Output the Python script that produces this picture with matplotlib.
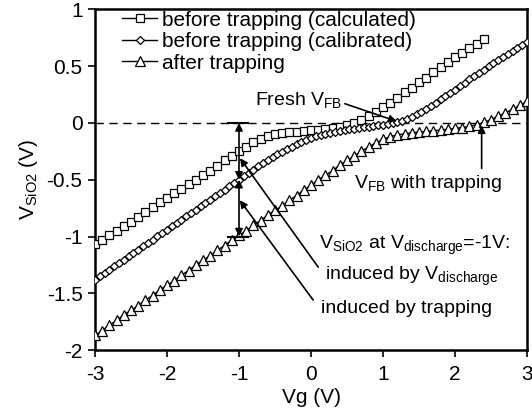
import numpy as np
import matplotlib
matplotlib.use("Agg")
import matplotlib.pyplot as plt

plt.rcParams["font.family"] = ["Liberation Sans", "DejaVu Sans"]
plt.rcParams["mathtext.fontset"] = "custom"
plt.rcParams["mathtext.rm"] = "Liberation Sans"
plt.rcParams["mathtext.it"] = "Liberation Sans:italic"
plt.rcParams["mathtext.default"] = "regular"
plt.rcParams["axes.unicode_minus"] = False

# Oxide voltage vs gate voltage
vg_calc = np.round(np.arange(-3.0, 2.41, 0.1), 2)
vsio2_calc = [
    -1.07, -1.03, -0.99, -0.95, -0.91, -0.87, -0.83, -0.78, -0.74, -0.70,
    -0.66, -0.62, -0.58, -0.54, -0.50, -0.46, -0.42, -0.38, -0.33, -0.29,
    -0.25, -0.21, -0.17, -0.14, -0.115, -0.10, -0.09, -0.08, -0.075, -0.07,
    -0.065, -0.06, -0.055, -0.045, -0.035, -0.02, 0.00, 0.025, 0.06, 0.10,
    0.14, 0.18, 0.22, 0.27, 0.31, 0.36, 0.40, 0.45, 0.49, 0.54,
    0.58, 0.62, 0.66, 0.70, 0.74,
]

vg_calib = np.linspace(-3.0, 3.0, 91)
vsio2_calib = [
    -1.380, -1.351, -1.321, -1.292, -1.263, -1.233, -1.204, -1.175, -1.145, -1.116,
    -1.087, -1.057, -1.028, -0.999, -0.969, -0.940, -0.911, -0.881, -0.852, -0.823,
    -0.793, -0.764, -0.735, -0.705, -0.676, -0.647, -0.617, -0.588, -0.559, -0.529,
    -0.500, -0.471, -0.441, -0.412, -0.383, -0.354, -0.326, -0.300, -0.276, -0.252,
    -0.230, -0.209, -0.189, -0.169, -0.150, -0.132, -0.117, -0.104, -0.094, -0.085,
    -0.077, -0.069, -0.062, -0.056, -0.050, -0.044, -0.038, -0.032, -0.026, -0.020,
    -0.015, -0.008, -0.001, 0.008, 0.020, 0.036, 0.055, 0.077, 0.100, 0.125,
    0.152, 0.180, 0.208, 0.237, 0.266, 0.295, 0.325, 0.355, 0.385, 0.414,
    0.443, 0.471, 0.499, 0.527, 0.554, 0.581, 0.608, 0.634, 0.660, 0.686,
    0.712,
]

vg_trap = np.linspace(-3.0, 3.0, 61)
vsio2_trap = [
    -1.87, -1.83, -1.78, -1.74, -1.69, -1.65, -1.61, -1.56, -1.52, -1.47,
    -1.43, -1.39, -1.34, -1.30, -1.25, -1.21, -1.17, -1.12, -1.08, -1.03,
    -0.99, -0.95, -0.90, -0.86, -0.81, -0.77, -0.73, -0.68, -0.64, -0.59,
    -0.55, -0.50, -0.46, -0.42, -0.37, -0.33, -0.29, -0.25, -0.21, -0.175,
    -0.145, -0.12, -0.105, -0.095, -0.087, -0.08, -0.074, -0.068, -0.062, -0.055,
    -0.048, -0.04, -0.03, -0.015, 0.005, 0.03, 0.06, 0.09, 0.12, 0.155,
    0.19,
]

labels = ["before trapping (calculated)", "before trapping (calibrated)", "after trapping"]
x_ticks = [-3, -2, -1, 0, 1, 2, 3]
y_ticks = [-2, -1.5, -1, -0.5, 0, 0.5, 1]
y_ticklabels = ["-2", "-1.5", "-1", "-0.5", "0", "0.5", "1"]

FS = 15

fig = plt.figure(figsize=(5.32, 4.11), dpi=100)
ax = fig.add_axes([0.1786, 0.1484, 0.8120, 0.8285])

ax.axhline(0, color="black", lw=1.0, ls=(0, (6, 4)), zorder=1)

common = dict(color="black", lw=1.0, mfc="white", mec="black", mew=0.9, zorder=3)
ax.plot(vg_calc, vsio2_calc, marker="s", ms=6.0, label=labels[0], **common)
ax.plot(vg_calib, vsio2_calib, marker="D", ms=4.2, label=labels[1], **common)
ax.plot(vg_trap, vsio2_trap, marker="^", ms=6.5, label=labels[2], **common)

ax.set_xlim(-3, 3)
ax.set_ylim(-2, 1)
ax.set_xticks(x_ticks)
ax.set_xticklabels([str(t) for t in x_ticks])
ax.set_yticks(y_ticks)
ax.set_yticklabels(y_ticklabels)
ax.tick_params(direction="out", length=5, width=1.2, labelsize=FS,
               top=False, right=False)
ax.tick_params(axis="x", pad=6)
ax.tick_params(axis="y", pad=4)
for s in ax.spines.values():
    s.set_linewidth(1.8)

ax.set_xlabel("Vg (V)", fontsize=FS, labelpad=3)
ax.set_ylabel(r"V$_{SiO2}$ (V)", fontsize=FS, labelpad=5)

leg = ax.legend(loc="upper left", bbox_to_anchor=(0.062, 0.997), frameon=False,
                numpoints=1, handlelength=1.7, handletextpad=0.25,
                labelspacing=0.12, borderaxespad=0, borderpad=0, fontsize=FS)

# Double-headed arrows marking the two shifts at Vg = -1 V
dbl = dict(arrowstyle="<|-|>", color="black", lw=1.2, mutation_scale=11,
           shrinkA=0, shrinkB=0)
ax.annotate("", xy=(-1.0, 0.0), xytext=(-1.0, -0.5), arrowprops=dbl, zorder=5)
ax.annotate("", xy=(-1.0, -0.5), xytext=(-1.0, -1.0), arrowprops=dbl, zorder=5)
ax.plot([-1.15, -0.87], [0.0, 0.0], color="black", lw=1.5, zorder=5)
ax.plot([-1.15, -0.87], [-1.0, -1.0], color="black", lw=1.5, zorder=5)

sgl = dict(arrowstyle="-|>", color="black", lw=1.2, mutation_scale=11,
           shrinkA=0, shrinkB=0)
ax.annotate("", xy=(1.19, 0.015), xytext=(0.47, 0.17), arrowprops=sgl, zorder=5)
ax.annotate("", xy=(2.37, -0.02), xytext=(2.37, -0.40), arrowprops=sgl, zorder=5)
ax.annotate("", xy=(-0.986, -0.31), xytext=(0.10, -1.27), arrowprops=sgl, zorder=5)
ax.annotate("", xy=(-0.99, -0.68), xytext=(0.03, -1.56), arrowprops=sgl, zorder=5)

ax.text(-0.17, 0.20, r"Fresh V$_{FB}$", fontsize=FS - 1, ha="center", va="center")
ax.text(1.63, -0.53, r"V$_{FB}$ with trapping", fontsize=FS - 1, ha="center", va="center")
ax.text(0.11, -1.075, r"V$_{SiO2}$ at V$_{discharge}$=-1V:", fontsize=FS - 1,
        ha="left", va="center")
ax.text(0.19, -1.35, r"induced by V$_{discharge}$", fontsize=FS - 1, ha="left", va="center")
ax.text(0.135, -1.63, "induced by trapping", fontsize=FS - 1, ha="left", va="center")

fig.savefig("out.png", dpi=100)
